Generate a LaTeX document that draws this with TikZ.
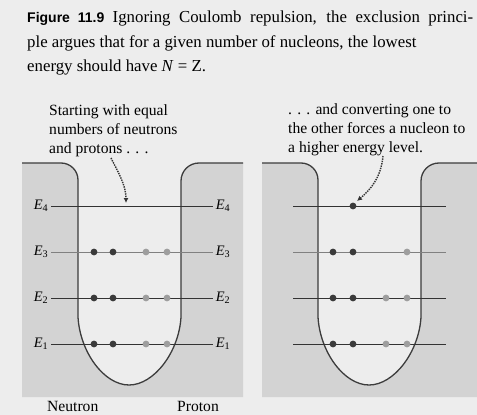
\documentclass[tikz,border=0pt]{standalone}
\usepackage{fontspec}
\setmainfont{Liberation Serif}
\newfontfamily\capsans{Liberation Sans}
\usetikzlibrary{arrows.meta}
\definecolor{pagebg}{HTML}{EDEDED}
\definecolor{panelbg}{HTML}{D3D3D3}
\definecolor{wallcol}{HTML}{3C3C3C}
\definecolor{neutroncol}{HTML}{3A3A3A}
\definecolor{protoncol}{HTML}{9E9E9E}

\begin{document}
\begin{tikzpicture}[x=1pt,y=-1pt,
    caption/.style={anchor=base west,inner sep=0pt,font=\fontsize{16.8}{24}\selectfont},
    note/.style={anchor=base west,inner sep=0pt,font=\fontsize{15.6}{19}\selectfont},
    elabel/.style={inner sep=3pt,font=\fontsize{14.5}{16}\selectfont},
    wall/.style={draw=wallcol,line width=1.3pt},
    level/.style={line width=0.9pt},
    pointer/.style={densely dotted,line width=1.4pt,black!80,
      -{Latex[length=5pt,width=5pt]}},
    neutron/.style={fill=neutroncol},
    proton/.style={fill=protoncol}]
  \useasboundingbox[fill=pagebg] (0,0) rectangle (477,415);

  % caption
  \node[caption] (cap1) at (27,23)
    {\makebox[446pt][s]{{\capsans\bfseries\fontsize{14}{24}\selectfont Figure 11.9}\enspace Ignoring Coulomb repulsion, the exclusion princi-}};
  \node[caption] (cap2) at (27,47)
    {ple argues that for a given number of nucleons, the lowest};
  \node[caption] (cap3) at (27,71) {energy should have \textit{N} = Z.};

  % the two wells
  \foreach \dx in {0,240} {
    \begin{scope}[xshift=\dx]
      \fill[panelbg] (22,163) -- (61,163) .. controls (70.4,163) and (78,170.6) .. (78,180)
        -- (78,317) .. controls (80,352) and (104,385) .. (129,385)
        .. controls (154,385) and (179,352) .. (181,317)
        -- (181,181) .. controls (181,171) and (189,163) .. (199,163)
        -- (243,163) -- (243,397) -- (22,397) -- cycle;
      \draw[wall] (22,163) -- (61,163) .. controls (70.4,163) and (78,170.6) .. (78,180)
        -- (78,317) .. controls (80,352) and (104,385) .. (129,385)
        .. controls (154,385) and (179,352) .. (181,317)
        -- (181,181) .. controls (181,171) and (189,163) .. (199,163)
        -- (243,163);
    \end{scope}
  }

  % levels
  \foreach \y/\n/\c in {206/4/80,252/3/50,298/2/80,344/1/80} {
    \node[elabel] (EL\n) at (41,\y) {\textit{E}\textsubscript{\n}};
    \node[elabel] (ER\n) at (223,\y) {\textit{E}\textsubscript{\n}};
    \draw[level,black!\c] (EL\n) -- (ER\n);
    \coordinate (RL\n) at (293,\y);
    \coordinate (RR\n) at (446,\y);
    \draw[level,black!\c] (RL\n) -- (RR\n);
  }

  % nucleons, equal numbers
  \foreach \y in {252,298,344} {
    \fill[neutron] (94,\y) circle (3.4) (113,\y) circle (3.4);
    \fill[proton] (146,\y) circle (3.4) (167,\y) circle (3.4);
  }
  % nucleons, one converted
  \foreach \y in {252,298,344} {
    \fill[neutron] (333,\y) circle (3.4) (353,\y) circle (3.4);
    \fill[proton] (407,\y) circle (3.4);
  }
  \foreach \y in {298,344} \fill[proton] (386,\y) circle (3.4);
  \fill[neutron] (353,206) circle (3.4);

  % notes
  \node[note] (noteL1) at (49,115) {Starting with equal};
  \node[note] (noteL2) at (49,134) {numbers of neutrons};
  \node[note] (noteL3) at (49,153) {and protons . . .};
  \node[note] (noteR1) at (288,114) {. . . and converting one to};
  \node[note] (noteR2) at (288,133) {the other forces a nucleon to};
  \node[note] (noteR3) at (288,152) {a higher energy level.};

  \coordinate (ptrLs) at (111,158);
  \coordinate (ptrLe) at (126,203);
  \coordinate (ptrRs) at (383,156);
  \coordinate (ptrRe) at (357,201);
  \draw[pointer] (ptrLs) .. controls (118,172) and (126,185) .. (ptrLe);
  \draw[pointer] (ptrRs) .. controls (381,178) and (370,190) .. (ptrRe);

  % bottom labels
  \node[note] (neutron) at (47,411) {Neutron};
  \node[note] (proton) at (177,411) {Proton};
\end{tikzpicture}
\end{document}
